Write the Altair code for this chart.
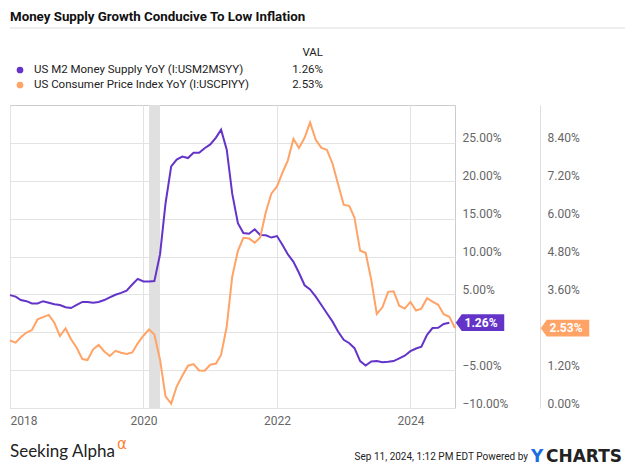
import altair as alt
import pandas as pd

# ---------------- data ----------------
title_text = "Money Supply Growth Conducive To Low Inflation"
series_names = ["US M2 Money Supply YoY (I:USM2MSYY)", "US Consumer Price Index YoY (I:USCPIYY)"]

# monthly points, first point at 2018-01
m2_yoy = [4.9, 4.7, 4.25, 4.1, 3.8, 3.8, 4.1, 3.9, 3.7, 3.6,
          3.3, 3.2, 3.6, 4.0, 4.0, 3.9, 4.0, 4.25, 4.6, 4.95,
          5.2, 5.5, 6.3, 7.05, 6.7, 6.7, 6.75, 10.3, 17.0, 21.9,
          22.8, 23.2, 23.0, 23.7, 23.7, 24.3, 24.8, 25.7, 26.75, 24.1,
          18.3, 14.4, 13.1, 13.0, 13.6, 12.85, 12.8, 12.5, 12.7, 11.5,
          10.3, 9.3, 7.85, 6.2, 5.65, 4.7, 3.6, 2.5, 1.4, 0.1,
          -1.0, -1.45, -2.1, -3.8, -4.4, -3.85, -3.8, -3.95, -3.9, -3.8,
          -3.45, -3.1, -2.5, -2.15, -1.9, -0.35, 0.55, 0.6, 1.1, 1.26]

cpi_yoy = [2.14, 2.07, 2.24, 2.39, 2.47, 2.81, 2.88, 2.95, 2.70, 2.28,
           2.52, 2.18, 1.91, 1.55, 1.52, 1.86, 2.00, 1.79, 1.65, 1.81,
           1.75, 1.71, 1.76, 2.05, 2.29, 2.49, 2.33, 1.53, 0.37, 0.14,
           0.68, 1.02, 1.34, 1.39, 1.19, 1.18, 1.37, 1.41, 1.68, 2.58,
           4.16, 4.98, 5.39, 5.37, 5.24, 5.40, 6.21, 6.79, 7.02, 7.47,
           7.84, 8.53, 8.24, 8.56, 9.05, 8.50, 8.24, 8.18, 7.74, 7.10,
           6.44, 6.40, 6.03, 4.98, 4.92, 4.05, 2.98, 3.19, 3.68, 3.70,
           3.24, 3.15, 3.36, 3.09, 3.15, 3.48, 3.37, 3.27, 2.97, 2.89,
           2.53]

m2_dates = pd.date_range("2018-01-01", periods=len(m2_yoy), freq="MS").strftime("%Y-%m-%d").tolist()
cpi_dates = pd.date_range("2018-01-01", periods=len(cpi_yoy), freq="MS").strftime("%Y-%m-%d").tolist()

recession_start = ["2020-02-01"]
recession_end = ["2020-04-01"]

m2_ticks = [-10, -5, 0, 5, 10, 15, 20, 25]
cpi_ticks = [0, 1.2, 2.4, 3.6, 4.8, 6.0, 7.2, 8.4]
year_ticks = [2018, 2020, 2022, 2024]

footer_date = "Sep 11, 2024, 1:12 PM EDT Powered by"

# ---------------- style ----------------
PURPLE = "#6434c9"
ORANGE = "#ffa366"
GRID = "#e3e3e3"
W, H = 445, 303
FONT = "Roboto"

df_m2 = pd.DataFrame({"date": m2_dates, "v": m2_yoy})
df_cpi = pd.DataFrame({"date": cpi_dates, "v": cpi_yoy})
df_rec = pd.DataFrame({"s": recession_start, "e": recession_end})

xscale = alt.Scale(type="utc",
                   domain=[alt.DateTime(year=2018, month=1, date=1, utc=True),
                           alt.DateTime(year=2024, month=9, date=1, utc=True)])
xaxis = alt.Axis(values=[alt.DateTime(year=y, month=1, date=1, utc=True) for y in year_ticks],
                 format="%Y", title=None, grid=True, gridColor=GRID, ticks=False,
                 domain=False, labelFlush=True, labelPadding=7, labelColor="#666",
                 labelFontSize=12, labelFont=FONT)

ys_m2 = alt.Scale(domain=[-10, 30], nice=False, zero=False)
ys_cpi = alt.Scale(domain=[0, 9.6], nice=False, zero=False)

band = alt.Chart(df_rec).mark_rect(color="#e0e0e0").encode(
    x=alt.X("s:T", scale=xscale, axis=xaxis),
    x2="e:T",
    y=alt.value(0), y2=alt.value(H),
)

m2_line = alt.Chart(df_m2).mark_line(color=PURPLE, strokeWidth=2).encode(
    x=alt.X("date:T", scale=xscale, axis=xaxis),
    y=alt.Y("v:Q", scale=ys_m2,
            axis=alt.Axis(orient="right", values=m2_ticks, title=None, grid=True,
                          gridColor=GRID, ticks=False, domain=False, labelPadding=7,
                          labelBaseline="alphabetic", labelOffset=-1,
                          labelExpr="datum.value == 0 ? '' : format(datum.value, '.2f') + '%'",
                          labelColor="#666", labelFontSize=12, labelFont=FONT)),
)

cpi_line = alt.Chart(df_cpi).mark_line(color=ORANGE, strokeWidth=2).encode(
    x=alt.X("date:T", scale=xscale, axis=xaxis),
    y=alt.Y("v:Q", scale=ys_cpi,
            axis=alt.Axis(orient="right", offset=85, values=cpi_ticks, title=None, grid=False,
                          ticks=False, domain=True, domainColor="#dddddd", labelPadding=7,
                          labelBaseline="alphabetic", labelOffset=-1,
                          labelExpr="datum.value == 2.4 ? '' : format(datum.value, '.2f') + '%'",
                          labelColor="#666", labelFontSize=12, labelFont=FONT)),
)

BADGE = "M-1,0 L-0.753,-0.344 L1,-0.344 L1,0.344 L-0.753,0.344 Z"

def badge(value, color, scale, cx):
    d = pd.DataFrame({"v": [value], "t": [f"{value:.2f}%"]})
    shape = alt.Chart(d).mark_point(shape=BADGE, filled=True, size=2352, color=color,
                                    opacity=1, strokeWidth=0).encode(
        x=alt.value(cx), y=alt.Y("v:Q", scale=scale, axis=None))
    label = alt.Chart(d).mark_text(color="white", font=FONT, fontWeight="bold",
                                   fontSize=12, align="center", baseline="middle").encode(
        x=alt.value(cx + 1), y=alt.Y("v:Q", scale=scale, axis=None), text="t:N")
    return [shape, label]


def txt(s, x, y, **kw):
    return alt.Chart(pd.DataFrame({"t": [s]})).mark_text(**kw).encode(
        x=alt.value(x), y=alt.value(y), text="t:N")

deco = [
    txt(title_text, 0, -84, font=FONT, fontWeight="bold", fontSize=13.3, color="#111",
        align="left", baseline="alphabetic"),
    alt.Chart(pd.DataFrame({"a": [0]})).mark_rule(color="#dddddd", strokeWidth=1).encode(
        x=alt.value(0), x2=alt.value(615), y=alt.value(-77)),
    alt.Chart(pd.DataFrame({"a": [0]})).mark_circle(color=PURPLE, size=45, opacity=1).encode(
        x=alt.value(10), y=alt.value(-35)),
    alt.Chart(pd.DataFrame({"a": [0]})).mark_circle(color=ORANGE, size=45, opacity=1).encode(
        x=alt.value(10), y=alt.value(-20)),
    txt(series_names[0], 24, -35, font=FONT, fontSize=11.5, color="#222", align="left", baseline="middle"),
    txt(series_names[1], 24, -20, font=FONT, fontSize=11.5, color="#222", align="left", baseline="middle"),
    txt("VAL", 313, -52, font=FONT, fontSize=11.5, color="#222", align="right", baseline="middle"),
    txt(f"{m2_yoy[-1]:.2f}%", 313, -35, font=FONT, fontSize=11.5, color="#222", align="right", baseline="middle"),
    txt(f"{cpi_yoy[-1]:.2f}%", 313, -20, font=FONT, fontSize=11.5, color="#222", align="right", baseline="middle"),
    txt("Seeking Alpha", 0, 352, font="Lato", fontSize=17, color="#222", align="left", baseline="alphabetic"),
    txt("α", 107, 344, font="DejaVu Sans", fontSize=15, color="#f7843a", align="left", baseline="alphabetic"),
    txt(footer_date, 518, 355, font=FONT, fontSize=10, color="#222", align="right", baseline="alphabetic"),
    txt("Y", 521, 357, font="DejaVu Sans", fontWeight="bold", fontSize=17, color="#1a6fe0", align="left", baseline="alphabetic"),
    txt("CHARTS", 536, 357, font="DejaVu Sans", fontWeight="bold", fontSize=17, color="#222", align="left", baseline="alphabetic"),
]

layers = [band, m2_line, cpi_line] + badge(m2_yoy[-1], PURPLE, ys_m2, 470) + badge(cpi_yoy[-1], ORANGE, ys_cpi, 555) + deco

chart = alt.layer(*layers).resolve_scale(y="independent").properties(
    width=W, height=H,
    autosize=alt.AutoSizeParams(type="none"),
    padding={"left": 2, "top": 97, "right": 172, "bottom": 57},
    background="white",
).configure_view(stroke="#cccccc", strokeWidth=1)

chart.save("out.html", embed_options={"renderer": "svg", "actions": False})
